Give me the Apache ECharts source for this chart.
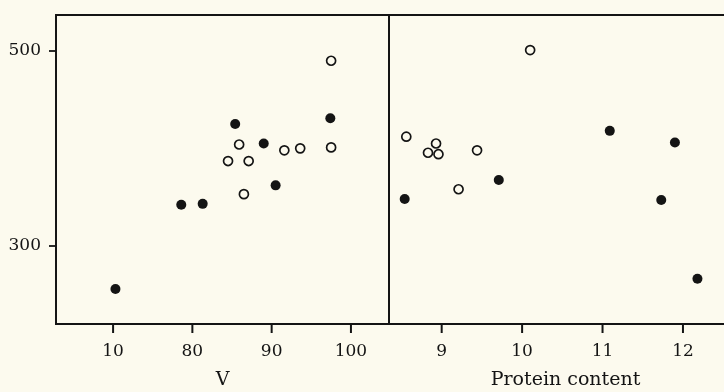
<!DOCTYPE html>
<html><head><meta charset="utf-8">
<script src="https://cdn.jsdelivr.net/npm/echarts@6/dist/echarts.min.js"></script>
<style>html,body{margin:0;padding:0;background:#fcfaee}#c{width:724px;height:392px}</style>
</head><body><div id="c"></div>
<script>
// Left panel: V
const leftTickValues = [70, 80, 90, 100];
const leftTickLabels = ['10', '80', '90', '100'];
const leftFilled = [[97.4,431],[85.4,425],[89.0,405],[90.5,362],[78.6,342],[81.3,343],[70.3,255.5]];
const leftOpen = [[97.5,490],[85.9,404],[91.6,398],[93.6,400],[97.5,401],[84.5,387],[87.1,387],[86.5,353]];
// Right panel: Protein content
const rightTickValues = [9, 10, 11, 12];
const rightTickLabels = ['9', '10', '11', '12'];
const rightFilled = [[11.09,418],[11.90,406],[9.71,367.5],[8.54,348],[11.73,347],[12.18,266]];
const rightOpen = [[10.10,501],[8.56,412],[8.93,405],[8.83,395.5],[8.96,394],[9.44,398],[9.21,358]];
// Y axis
const yTickValues = [300, 500];
const yTickLabels = ['300', '500'];
const yMin = 219.6, yMax = 537;

const ink = '#141414';
const bg = '#fcfaee';
const font = 'DejaVu Serif';

const chart = echarts.init(document.getElementById('c'));
function xAx(idx, min, max, vals, labels, name, namePad) {
  return {
    gridIndex: idx, type: 'value', min: min, max: max, position: 'bottom',
    name: name, nameLocation: 'middle', nameGap: 47,
    nameTextStyle: {color: ink, fontFamily: font, fontSize: 19, padding: namePad},
    axisLine: {show: true, onZero: false, lineStyle: {color: ink, width: 1.8}},
    axisTick: {show: false},
    axisLabel: {show: true, customValues: vals, margin: 19, color: ink, fontFamily: font, fontSize: 17,
      formatter: v => labels[vals.indexOf(v)] ?? ''},
    splitLine: {show: false}
  };
}
function yAx(idx, showLabels) {
  return {
    gridIndex: idx, type: 'value', min: yMin, max: yMax,
    axisLine: {show: true, onZero: false, lineStyle: {color: ink, width: 1.8}},
    axisTick: {show: showLabels, length: 7, customValues: yTickValues, lineStyle: {color: ink, width: 1.8}},
    axisLabel: {show: showLabels, customValues: yTickValues, margin: 15, color: ink, fontFamily: font, fontSize: 17,
      formatter: v => yTickLabels[yTickValues.indexOf(v)] ?? ''},
    splitLine: {show: false}
  };
}
function tickSeries(idx, vals) {
  return {
    type: 'custom', xAxisIndex: idx, yAxisIndex: idx, silent: true, clip: false, z: 10,
    data: vals.map(v => [v, yMin]),
    renderItem: function (params, api) {
      const p = api.coord([api.value(0), api.value(1)]);
      return {type: 'rect', shape: {x: p[0] - 1, y: p[1], width: 2, height: 9},
        style: {fill: ink}};
    }
  };
}
const filledStyle = {color: ink, opacity: 1};
const openStyle = {color: bg, borderColor: ink, borderWidth: 1.7, opacity: 1};
chart.setOption({
  backgroundColor: bg,
  animation: false,
  grid: [
    {left: 56, top: 15, width: 333, height: 309, outerBoundsMode: 'none', containLabel: false, show: true, borderColor: ink, borderWidth: 1.8, backgroundColor: 'transparent'},
    {left: 389, top: 15, right: -4, height: 309, outerBoundsMode: 'none', containLabel: false, show: true, borderColor: ink, borderWidth: 1.8, backgroundColor: 'transparent'}
  ],
  xAxis: [
    xAx(0, 62.8, 104.8, leftTickValues, leftTickLabels, 'V', [0, 0, 0, 0]),
    xAx(1, 8.345, 12.56, rightTickValues, rightTickLabels, 'Protein content', [0, 0, 0, 14])
  ],
  yAxis: [yAx(0, true), yAx(1, false)],
  series: [
    tickSeries(0, leftTickValues),
    tickSeries(1, rightTickValues),
    {type: 'scatter', xAxisIndex: 0, yAxisIndex: 0, data: leftFilled, symbolSize: 10, itemStyle: filledStyle},
    {type: 'scatter', xAxisIndex: 0, yAxisIndex: 0, data: leftOpen, symbolSize: 9, itemStyle: openStyle},
    {type: 'scatter', xAxisIndex: 1, yAxisIndex: 1, data: rightFilled, symbolSize: 10, itemStyle: filledStyle},
    {type: 'scatter', xAxisIndex: 1, yAxisIndex: 1, data: rightOpen, symbolSize: 9, itemStyle: openStyle}
  ]
});
</script></body></html>
